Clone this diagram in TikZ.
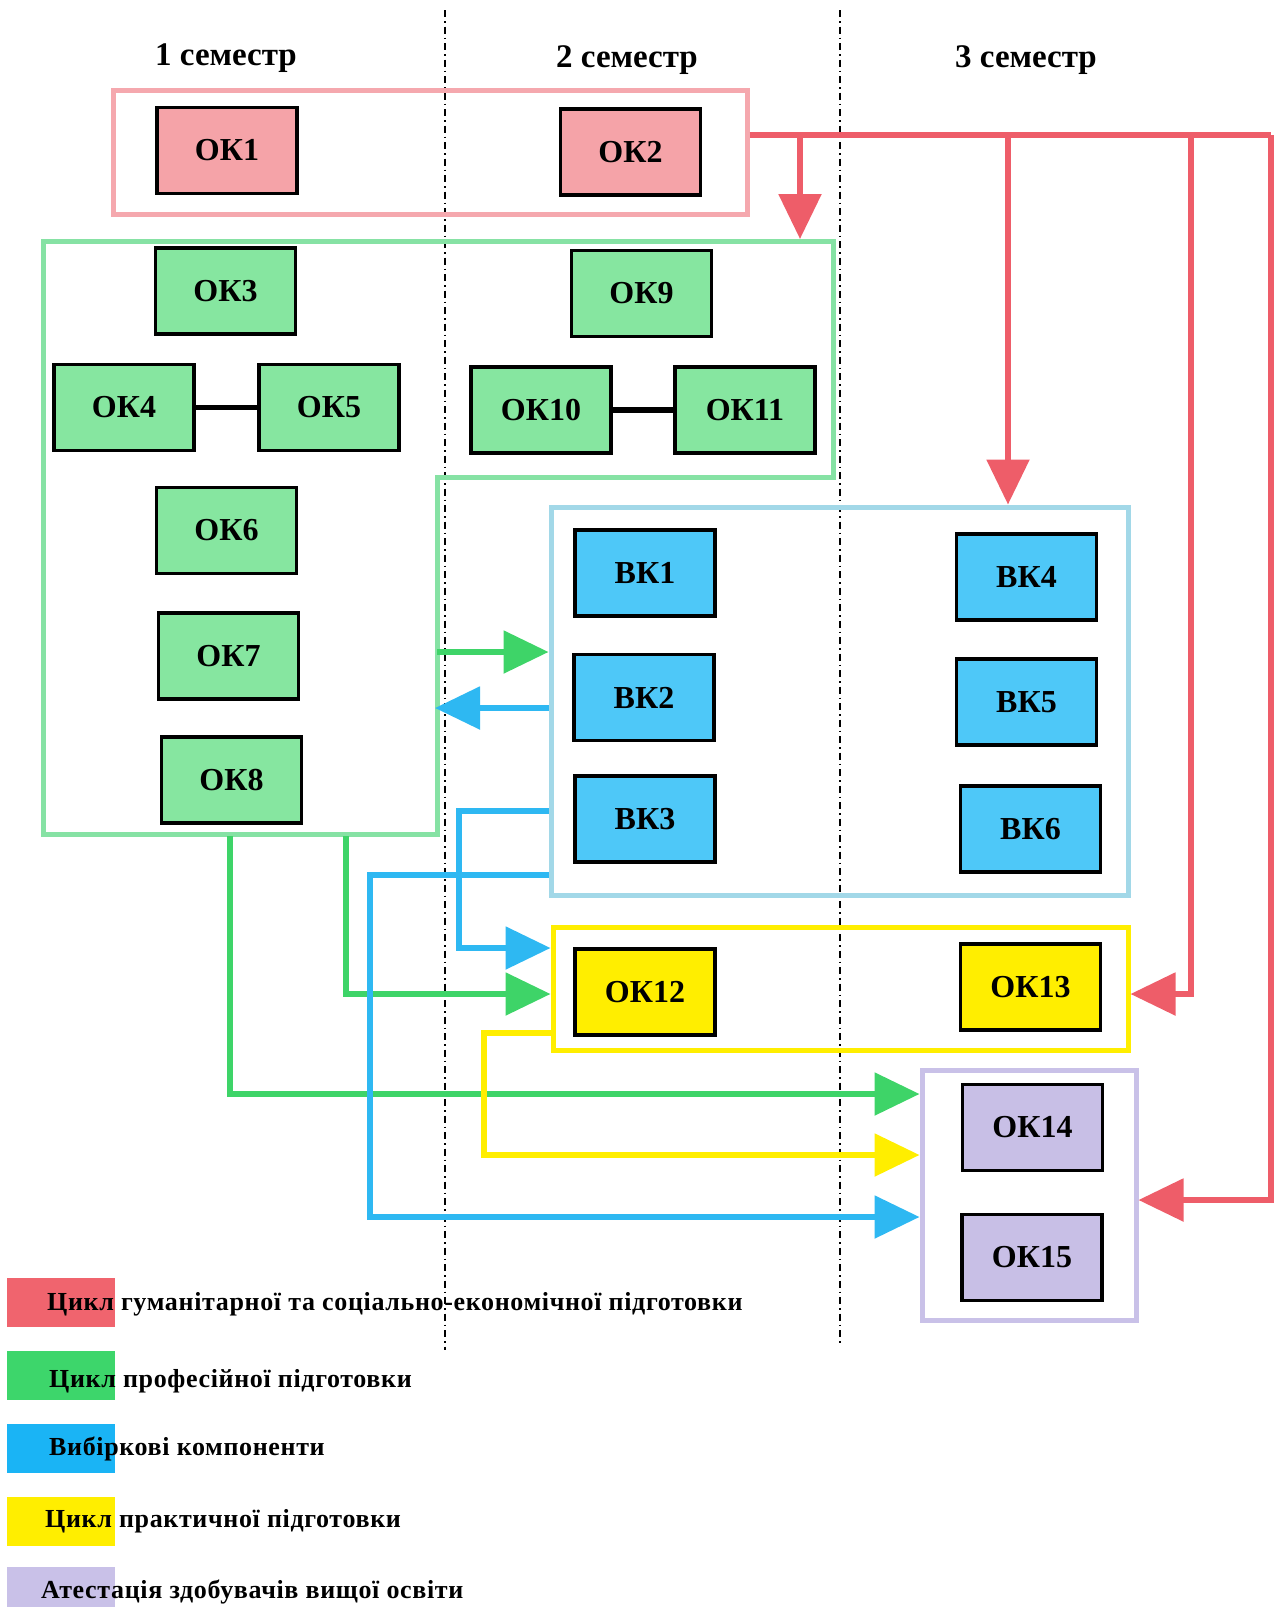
\documentclass[tikz,border=0pt]{standalone}
\usepackage{fontspec}
\setmainfont{Liberation Serif}
\newfontfamily\legfont{Liberation Serif}[LetterSpace=2.5]
\usetikzlibrary{arrows.meta}
\definecolor{pinkbox}{HTML}{F5A8AE}
\definecolor{pinkfill}{HTML}{F5A3A8}
\definecolor{redarr}{HTML}{EE5D69}
\definecolor{greenbox}{HTML}{86E2A4}
\definecolor{greenfill}{HTML}{86E6A0}
\definecolor{greenarr}{HTML}{3ED468}
\definecolor{bluebox}{HTML}{A2D8E8}
\definecolor{bluefill}{HTML}{4EC8F8}
\definecolor{bluearr}{HTML}{2EB8F2}
\definecolor{yellowc}{HTML}{FFEE00}
\definecolor{purplebox}{HTML}{C9C1E8}
\definecolor{purplefill}{HTML}{C8BFE6}
\definecolor{legred}{HTML}{F0646E}
\definecolor{leggreen}{HTML}{3DD66B}
\definecolor{legblue}{HTML}{1AB4F5}
\begin{document}
\begin{tikzpicture}[x=1pt, y=-1pt,
		comp/.style={draw=black, line width=3.5pt, minimum width=140pt, minimum height=86pt, inner sep=0pt, font=\fontsize{32}{36}\selectfont\bfseries},
		grp/.style={line width=5pt, inner sep=0pt},
		arr/.style={line width=5.5pt, -{Triangle[length=45pt, width=42pt]}},
		sem/.style={anchor=base, font=\fontsize{33}{36}\selectfont\bfseries}]
	\useasboundingbox (0,0) rectangle (1276,1607);
	\draw[line width=1.2pt, dash pattern=on 7pt off 4pt on 1.5pt off 4pt] (445,10) -- (445,1350);
	\draw[line width=1.2pt, dash pattern=on 7pt off 4pt on 1.5pt off 4pt] (840,10) -- (840,1345);
	\node[sem] (sem1) at (226,65) {1 семестр};
	\node[sem] (sem2) at (627,67) {2 семестр};
	\node[sem] (sem3) at (1026,67) {3 семестр};
	\node[grp, draw=pinkbox, minimum width=634pt, minimum height=124pt] (gpink) at (430,152) {};
	\node[grp, draw=bluebox, minimum width=577pt, minimum height=388pt] (gblue) at (839.5,701) {};
	\node[grp, draw=yellowc, minimum width=575pt, minimum height=123pt] (gyellow) at (840.5,988.5) {};
	\node[grp, draw=purplebox, minimum width=214pt, minimum height=250pt] (gpurple) at (1029,1195) {};
	\draw[greenbox, line width=5pt] (43,241) -- (833,241) -- (833,477) -- (437,477) -- (437,834) -- (43,834) -- cycle;
	\foreach \i/\x/\y in {1/227/150.5, 2/630.5/152}
		\node[comp, fill=pinkfill] (ok\i) at (\x,\y) {ОК\i};
	\foreach \i/\x/\y in {3/225.5/291, 9/641.5/293.5, 4/124/407.5, 5/329/407.5, 10/541/410, 11/745/410, 6/226.5/530.5, 7/228.5/656, 8/231.5/780}
		\node[comp, fill=greenfill] (ok\i) at (\x,\y) {ОК\i};
	\foreach \i/\x/\y in {1/645/573, 2/644/697.5, 3/645/819, 4/1026.5/577, 5/1026.5/702, 6/1030.5/829}
		\node[comp, fill=bluefill] (bk\i) at (\x,\y) {ВК\i};
	\foreach \i/\x/\y in {12/645/992, 13/1030.5/987}
		\node[comp, fill=yellowc] (ok\i) at (\x,\y) {ОК\i};
	\foreach \i/\x/\y in {14/1032.5/1127.5, 15/1032/1257.5}
		\node[comp, fill=purplefill] (ok\i) at (\x,\y) {ОК\i};
	\draw[line width=5pt] (ok4) -- (ok5);
	\draw[line width=6pt, line cap=round] (ok10) -- (ok11);
	\coordinate (bus0) at (gpink.east |- 0,135);
	\coordinate (bus1) at (800,135);
	\coordinate (bus2) at (1008,135);
	\coordinate (bus3) at (1191,135);
	\coordinate (bus4) at (1271,135);
	\draw[redarr, line width=5.5pt] (bus0) -- (bus4);
	\draw[arr, redarr] (bus1) -- (bus1 |- 0,239);
	\draw[arr, redarr] (bus2) -- (bus2 |- gblue.north);
	\draw[arr, redarr] (bus3) |- (gyellow.east |- 0,994);
	\draw[arr, redarr] (bus4) |- (gpurple.east |- 0,1200);
	\coordinate (gout) at (437,652);
	\coordinate (gin) at (435,708);
	\coordinate (gbot1) at (230,836);
	\coordinate (gbot2) at (346,836);
	\draw[arr, greenarr] (gout) -- (gblue.west |- gout);
	\draw[arr, greenarr] (gbot2) |- (gyellow.west |- 0,994);
	\draw[arr, greenarr] (gbot1) |- (gpurple.west |- 0,1094);
	\draw[arr, bluearr] (gblue.west |- gin) -- (gin);
	\draw[arr, bluearr] (gblue.west |- 0,811) -| (459,948) -- (gyellow.west |- 0,948);
	\draw[arr, bluearr] (gblue.west |- 0,875) -| (370,1217) -- (gpurple.west |- 0,1217);
	\draw[arr, yellowc] (gyellow.west |- 0,1033) -| (484,1155) -- (gpurple.west |- 0,1155);
	\foreach \c/\t/\b/\x/\txt [count=\k] in {
			legred/1278/1310/47/{Цикл гуманітарної та соціально-економічної підготовки},
			leggreen/1351/1387/49/{Цикл професійної підготовки},
			legblue/1424/1455/49/{Вибіркові компоненти},
			yellowc/1497/1527/45/{Цикл практичної підготовки},
			purplebox/1567/1598/41/{Атестація здобувачів вищої освіти}}
	{
		\fill[\c] (7,\t) rectangle (115,\t+49);
		\node[anchor=base west, inner sep=0pt, font=\legfont\bfseries\fontsize{26}{30}\selectfont] (leg\k) at (\x,\b) {\txt};
	}
\end{tikzpicture}
\end{document}
